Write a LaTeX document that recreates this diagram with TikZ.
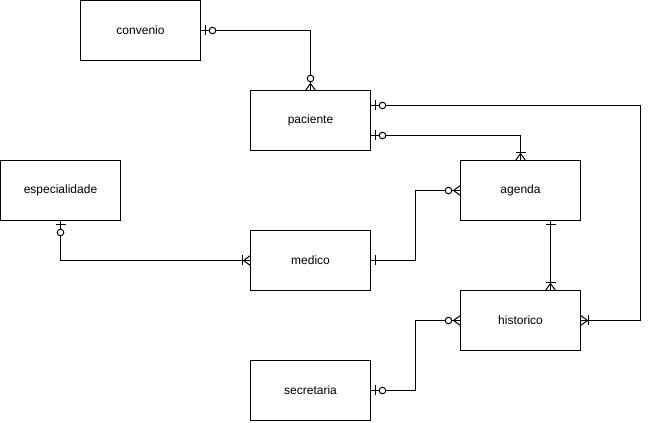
\documentclass[tikz,border=0pt]{standalone}
\usepackage{fontspec}
\setmainfont{Liberation Sans}
\usetikzlibrary{positioning,decorations.markings}

\tikzset{
  entity/.style={rectangle, draw, line width=1pt, minimum width=120pt, minimum height=60pt,
    inner sep=0pt, outer sep=0pt, font=\fontsize{12}{14}\selectfont},
  rel/.style={line width=1pt},
  one start/.style={postaction={decorate,decoration={markings,
      mark=at position 4.5pt with {\draw[line width=1pt] (0,-5pt) -- (0,5pt);}}}},
  zero one start/.style={one start, postaction={decorate,decoration={markings,
      mark=at position 12pt with {\draw[line width=1pt,fill=white] (0,0) circle (3.3pt);}}}},
  many end/.style={postaction={decorate,decoration={markings,
      mark=at position -7pt with {\draw[line width=1pt] (0,0) -- (7pt,5pt) (0,0) -- (7pt,-5pt);}}}},
  one many end/.style={many end, postaction={decorate,decoration={markings,
      mark=at position -8pt with {\draw[line width=1pt] (0,-5pt) -- (0,5pt);}}}},
  zero many end/.style={many end, postaction={decorate,decoration={markings,
      mark=at position -12pt with {\draw[line width=1pt,fill=white] (0,0) circle (3.3pt);}}}}
}

\begin{document}
\begin{tikzpicture}
    \useasboundingbox (-0.5pt,0) rectangle (649.5pt,422.5pt);

    % Entities
    \node (convenio) [entity] at (140pt,392pt) {convenio};
    \node (paciente) [entity, below right=30pt and 50pt of convenio] {paciente};
    \node (medico) [entity, below=80pt of paciente] {medico};
    \node (secretaria) [entity, below=70pt of medico] {secretaria};
    \node (especialidade) [entity, above left=10pt and 130pt of medico] {especialidade};
    \node (agenda) [entity, below right=10pt and 90pt of paciente] {agenda};
    \node (historico) [entity, below=70pt of agenda] {historico};

    % Relationships
    \draw[rel, zero one start, zero many end] (convenio) -| (paciente);
    \draw[rel, zero one start, one many end] ([yshift=15pt]paciente.east) -- ++(270pt,0) |- (historico.east);
    \draw[rel, zero one start, one many end] ([yshift=-15pt]paciente.east) -| (agenda.north);
    \draw[rel, zero one start, one many end] (especialidade.south) |- (medico.west);
    \draw[rel, one start, zero many end] (medico.east) -- ++(45pt,0) |- (agenda.west);
    \draw[rel, one start, one many end] ([xshift=30pt]agenda.south) -- ([xshift=30pt]historico.north);
    \draw[rel, zero one start, zero many end] (secretaria.east) -- ++(45pt,0) |- (historico.west);
\end{tikzpicture}
\end{document}
